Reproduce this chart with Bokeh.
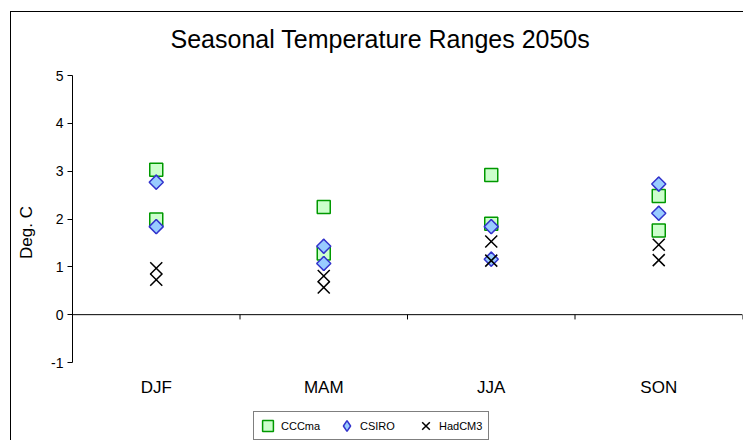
import math
from bokeh.plotting import figure
from bokeh.models import (Range1d, LinearAxis, FixedTicker, Legend, LegendItem, Title, Span)
from bokeh.core.properties import value
from bokeh.embed import file_html
from bokeh.resources import INLINE

# ---- data ----
categories = ["DJF", "MAM", "JJA", "SON"]
cccma_high = [3.03, 2.25, 2.92, 2.48]
cccma_low = [1.99, 1.28, 1.90, 1.76]
csiro_high = [2.77, 1.43, 1.84, 2.73]
csiro_low = [1.84, 1.07, 1.16, 2.12]
hadcm3_high = [0.97, 0.81, 1.53, 1.46]
hadcm3_low = [0.73, 0.57, 1.13, 1.14]
y_ticks = [-1, 0, 1, 2, 3, 4, 5]
title_text = "Seasonal Temperature Ranges 2050s"
y_label = "Deg. C"

FONT = "Liberation Sans"

cat_x = [i + 0.5 for i in range(len(categories))]
xs = cat_x + cat_x
boundaries = list(range(len(categories) + 1))

Y_MIN, Y_MAX = -1, 5
px_per_unit = (362 - 75) / (Y_MAX - Y_MIN)
y_frame_bottom = Y_MIN - (441 - 362) / px_per_unit   # frame extends to the page bottom

p = figure(width=733, height=429, output_backend="svg", toolbar_location=None,
           x_range=Range1d(0, len(categories)), y_range=Range1d(y_frame_bottom, Y_MAX),
           x_axis_location=None, y_axis_location=None,
           min_border_left=61, min_border_right=2, min_border_top=63,
           min_border_bottom=0,
           styles={"margin-left": "10px", "margin-top": "11px",
                   "border-left": "1px solid black", "border-top": "1px solid black"})
p.outline_line_color = None
p.background_fill_color = "white"
p.border_fill_color = "white"
p.xgrid.visible = False
p.ygrid.visible = False

# spacer between title and plot area, then the title itself
p.add_layout(Title(text=" ", text_font_size="1px", standoff=20), "above")
t = Title(text=title_text, align="left", offset=98, standoff=0,
          vertical_align="bottom",
          text_font=FONT, text_font_size="25px", text_font_style="normal",
          text_color="black")
p.add_layout(t, "above")

# y axis (label padded with no-break spaces so it sits over the -1..5 span)
yax = LinearAxis(ticker=FixedTicker(ticks=y_ticks),
                 axis_label="\u00a0" * 11 + y_label,
                 bounds=(Y_MIN, Y_MAX))
yax.major_label_overrides = {v: str(v) for v in y_ticks}
yax.axis_line_color = "black"
yax.major_tick_line_color = "black"
yax.major_tick_out = 5
yax.major_tick_in = 0
yax.minor_tick_line_color = None
yax.major_label_text_font = FONT
yax.major_label_text_font_size = "14px"
yax.major_label_text_color = "black"
yax.major_label_standoff = 4
yax.axis_label_text_font = FONT
yax.axis_label_text_font_size = "17px"
yax.axis_label_text_font_style = "normal"
yax.axis_label_text_color = "black"
yax.axis_label_standoff = 12
p.add_layout(yax, "left")

# zero line with category boundary ticks
p.add_layout(Span(location=0, dimension="width", line_color="black", line_width=1))
p.segment(x0=boundaries, x1=boundaries, y0=[0] * len(boundaries),
          y1=[-0.1] * len(boundaries), line_color="black", line_width=1)

# category labels below the plotting area
p.text(x=cat_x, y=[Y_MIN - 0.52] * len(categories), text=categories,
       text_align="center", text_baseline="middle",
       text_font=value(FONT), text_font_size="17px", text_color="black")

r_ccc = p.scatter(xs, cccma_high + cccma_low, marker="square", size=13,
                  fill_color="#CCFFCC", line_color="#009900", line_width=1.5)
# CSIRO: diamond (used by the legend) under a square turned 45 degrees
r_csi = p.scatter(xs, csiro_high + csiro_low, marker="diamond", size=14,
                  fill_color="#99CCFF", line_color="#3333CC", line_width=1.5)
p.scatter(xs, csiro_high + csiro_low, marker="square", size=10, angle=math.pi / 4,
          fill_color="#99CCFF", line_color="#3333CC", line_width=1.5)
r_had = p.scatter(xs, hadcm3_high + hadcm3_low, marker="x", size=17,
                  line_color="black", line_width=1.5)

legend = Legend(items=[LegendItem(label="CCCma", renderers=[r_ccc]),
                       LegendItem(label="CSIRO", renderers=[r_csi]),
                       LegendItem(label="HadCM3", renderers=[r_had])],
                orientation="horizontal", location=(181, 1),
                glyph_width=27, glyph_height=27, label_standoff=-3,
                label_width=49, spacing=3, padding=0, margin=0,
                label_text_font=FONT, label_text_font_size="11px",
                label_text_color="black",
                border_line_color="black", border_line_width=1,
                background_fill_color="white", background_fill_alpha=1)
p.add_layout(legend, "center")

open("out.html", "w").write(file_html(p, INLINE))
